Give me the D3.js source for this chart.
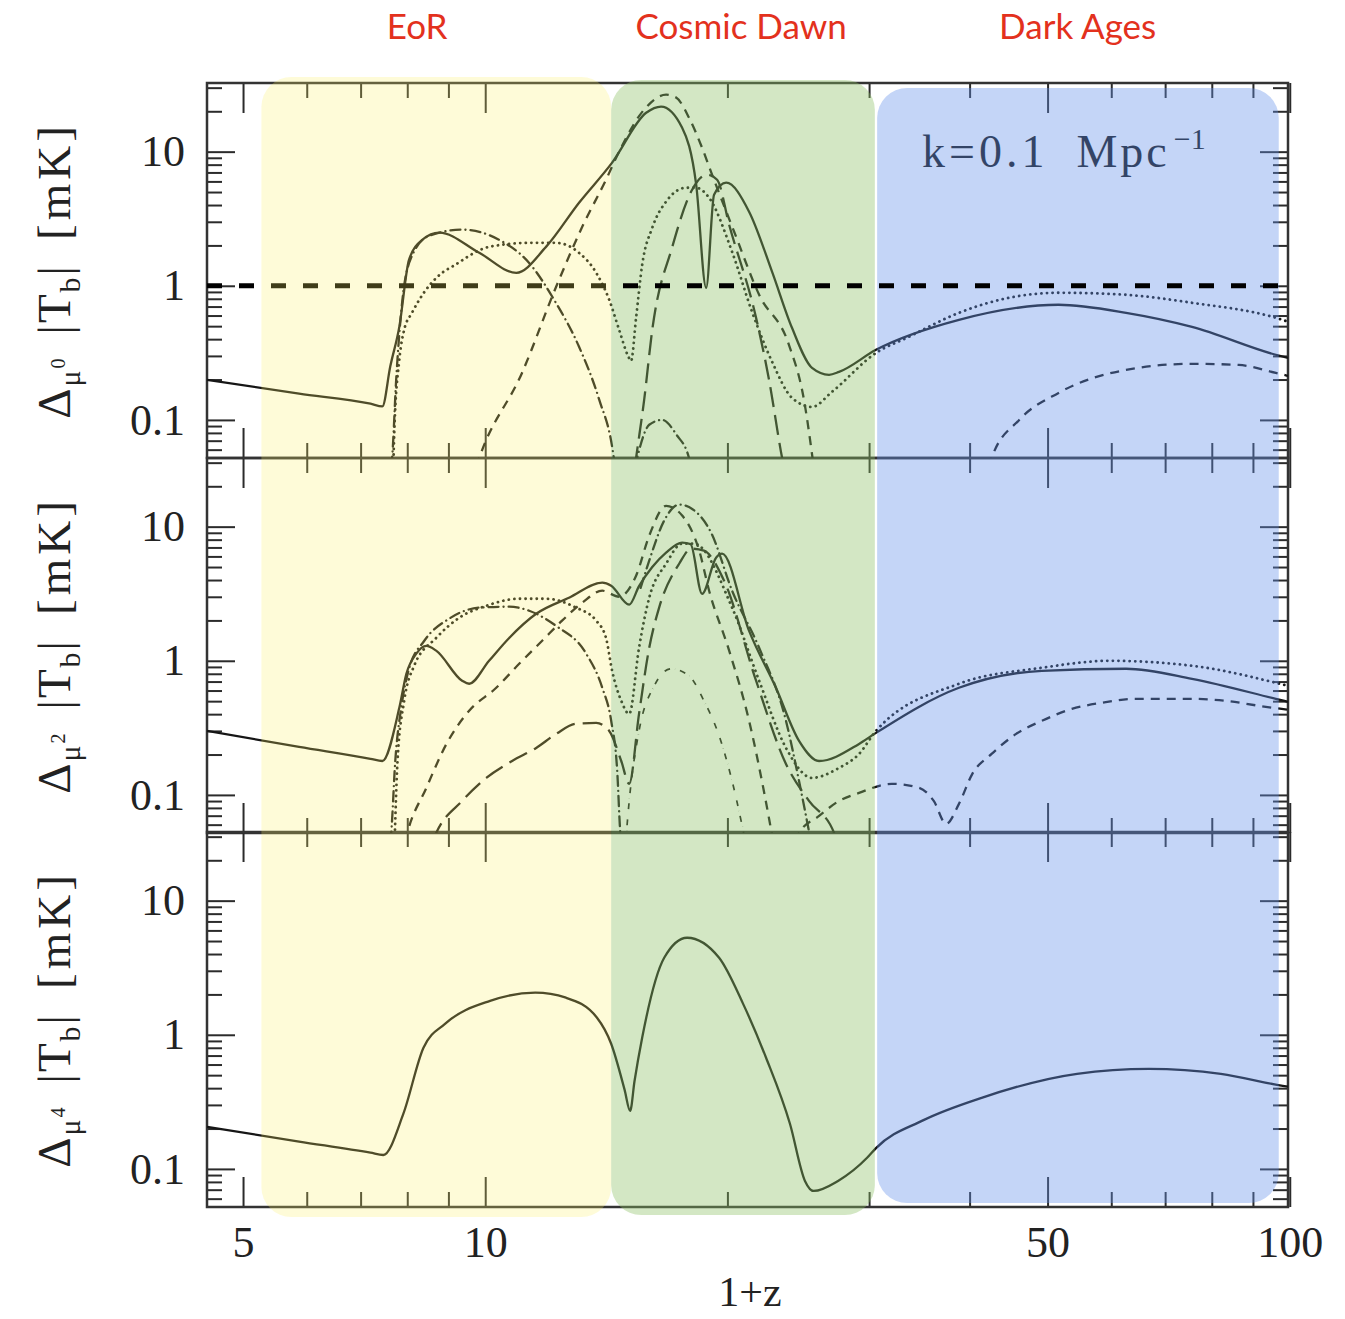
<!DOCTYPE html>
<html>
<head>
<meta charset="utf-8">
<script src="https://cdn.jsdelivr.net/npm/d3@7"></script>
<style>
  body { margin: 0; background: #fff; }
</style>
</head>
<body>
<svg id="chart" width="1345" height="1319"></svg>
<script>
// axis values
const xTicks = [5, 10, 50, 100];
const xMinor = [6, 7, 8, 9, 20, 30, 40, 60, 70, 80, 90];
const yTicks = [0.1, 1, 10];
const yMinor = [0.06, 0.07, 0.08, 0.09, 0.2, 0.3, 0.4, 0.5, 0.6, 0.7, 0.8, 0.9,
                2, 3, 4, 5, 6, 7, 8, 9, 20, 30];
const panelPowers = ["0", "2", "4"];
const thresholdLevel = 1;

// epochs (in 1+z)
const regionNames = ["EoR", "Cosmic Dawn", "Dark Ages"];
const regionStart = [5.27, 14.34, 30.7];
const regionEnd = [14.34, 30.5, 96.9];
const regionLabelAt = [8.23, 20.8, 54.5];

// mu^0 panel, [1+z, mK], null = gap
const mu0Total = [[4.51,0.199],[5.87,0.157],[7.2,0.132],[7.45,0.126],[7.62,0.25],[7.82,0.494],[8.04,1.56],[8.35,2.2],[8.77,2.49],[9.83,1.76],[10.93,1.25],[11.9,1.95],[13.08,4.16],[14.38,8.28],[15.85,19.5],[16.54,21.7],[17.57,15.1],[18.29,5.67],[18.82,0.966],[19.25,4.78],[19.93,5.87],[21.28,3.57],[22.73,1.27],[24.06,0.486],[25.48,0.244],[26.75,0.217],[27.53,0.228],[30.6,0.333],[38.8,0.557],[51.6,0.722],[62.6,0.629],[75.6,0.494],[96.1,0.306],[99.5,0.29]];
const mu0Dotted = [[7.69,0.05],[7.71,0.084],[7.82,0.28],[7.93,0.47],[8.11,0.629],[8.28,0.786],[8.84,1.25],[9.1,1.39],[10.11,1.95],[11.34,2.09],[12.25,2.09],[13.08,1.76],[13.74,1.25],[14.26,0.786],[14.67,0.47],[15.05,0.3],[15.18,0.275],[15.4,0.577],[15.67,1.43],[16.13,2.71],[16.78,4.24],[17.77,5.38],[18.29,5.38],[18.98,4.53],[20.27,1.79],[21.46,0.64],[22.73,0.271],[24.06,0.146],[25.48,0.125],[26.98,0.162],[30.6,0.316],[33.6,0.416],[38.8,0.629],[44.8,0.814],[51.6,0.887],[62.6,0.857],[75.6,0.747],[96.1,0.577],[99.5,0.54]];
const mu0Dashed = [[9.75,0.045],[9.83,0.052],[11.11,0.224],[12.25,0.983],[13.2,2.75],[14.13,6.18],[14.67,10],[15.76,20.6],[16.78,26.6],[17.27,25.3],[17.92,17.9],[18.6,10.7],[19.14,6.74],[20.39,2.53],[21.9,0.857],[23.85,0.363],[24.9,0.141],[25.6,0.045],
  null,[42.3,0.045],[42.6,0.052],[46.1,0.1],[51.6,0.159],[62.6,0.236],[75.6,0.262],[86.4,0.257],[96.1,0.224],[99.5,0.213]];
const mu0LongDash = [[15.35,0.045],[15.4,0.052],[15.76,0.141],[16.13,0.47],[17.08,1.95],[18.08,5.2],[18.87,6.74],[19.42,6.18],[20.1,2.85],[21.71,0.577],[22.53,0.199],[23.39,0.052],[23.5,0.045]];
const mu0DotDash = [[7.64,0.045],[7.66,0.052],[7.75,0.199],[7.89,0.786],[8.09,1.62],[8.52,2.36],[9.36,2.62],[10.41,2.2],[11.34,1.48],[12.18,0.786],[13.08,0.351],[13.86,0.141],[14.38,0.063],[14.5,0.045],
  null,[15.35,0.045],[15.99,0.092],[16.59,0.1],[17.3,0.077],[17.92,0.052],[18.0,0.045]];

// mu^2 panel
const mu2Total = [[4.51,0.3],[5.87,0.228],[7.2,0.186],[7.45,0.179],[7.82,0.446],[7.98,0.8],[8.21,1.13],[8.45,1.29],[8.69,1.19],[9.36,0.71],[9.55,0.674],[10.11,1.0],[10.71,1.48],[11.57,2.24],[12.71,2.95],[13.98,3.82],[14.34,3.63],[15.1,2.62],[15.53,3.6],[16.13,5.0],[16.78,6.4],[17.57,7.6],[18.0,7.4],[18.6,3.16],[19.36,5.87],[19.7,6.29],[21.28,1.67],[22.98,0.629],[24.55,0.253],[26.0,0.179],[29.15,0.24],[30.6,0.29],[38.8,0.629],[49.2,0.842],[62.6,0.872],[75.6,0.734],[96.1,0.52],[99.5,0.494]];
const mu2Dotted = [[7.72,0.05],[7.78,0.179],[7.93,0.503],[8.16,0.918],[8.69,1.48],[9.28,2.09],[10.03,2.57],[11.02,2.9],[11.9,2.9],[12.97,2.49],[13.74,1.99],[14.13,1.48],[14.38,0.842],[14.76,0.503],[15.1,0.402],[15.53,1.25],[15.99,2.95],[16.78,5.29],[17.57,7.47],[18.18,7.47],[20.27,2.49],[21.9,0.71],[23.65,0.224],[25.48,0.134],[27.53,0.159],[29.15,0.202],[30.6,0.3],[38.8,0.674],[49.2,0.887],[59.6,1.0],[75.6,0.918],[96.1,0.685],[99.5,0.65]];
const mu2Dashed = [[7.95,0.045],[8.0,0.052],[8.45,0.113],[8.95,0.24],[9.55,0.424],[10.32,0.629],[11.02,0.95],[11.77,1.41],[12.46,1.99],[13.2,2.71],[13.98,3.33],[14.67,3.0],[15.4,4.31],[15.99,8.57],[16.78,14.3],[17.57,12.1],[18.45,6.62],[18.98,3.33],[20.1,1.19],[21.28,0.357],[22.2,0.107],[22.8,0.045],
  null,[24.4,0.045],[24.55,0.052],[26.0,0.0697],[27.53,0.0902],[29.15,0.1035],[32.0,0.121],[34.6,0.113],[36.1,0.0902],[37.4,0.0608],[38.8,0.0857],[40.3,0.143],[42.6,0.202],[45.7,0.285],[49.2,0.357],[53.6,0.438],[58.4,0.486],[64.4,0.52],[75.6,0.52],[83.3,0.503],[91.5,0.462],[99.5,0.431]];
const mu2LongDash = [[8.6,0.045],[8.69,0.052],[9.36,0.0902],[10.03,0.134],[10.8,0.179],[11.57,0.224],[12.25,0.285],[12.97,0.339],[13.74,0.344],[14.26,0.3],[14.76,0.179],[15.1,0.121],[15.53,0.402],[15.99,1.25],[16.45,2.49],[17.42,5.29],[18.03,6.85],[18.7,6.62],[19.81,3.95],[21.71,0.71],[23.65,0.17],[25.26,0.0902],[27.14,0.052],[27.3,0.045]];
const mu2DotDash = [[7.62,0.045],[7.64,0.052],[7.73,0.179],[7.87,0.462],[8.04,0.871],[8.4,1.41],[9.02,2.06],[9.83,2.49],[10.71,2.53],[11.34,2.36],[12.25,1.82],[13.35,1.13],[13.98,0.629],[14.34,0.357],[14.59,0.151],[14.72,0.052],[14.75,0.045]];
const mu2ThinDotDash = [[14.95,0.045],[15.1,0.0902],[15.53,0.3],[16.22,0.65],[17.02,0.871],[17.92,0.773],[18.7,0.503],[19.53,0.276],[20.27,0.127],[20.8,0.064],[21.05,0.045]];
const mu2DashDot = [[15.6,3.5],[15.99,5.58],[16.69,11.1],[17.42,14.6],[18.1,13.5],[19.09,9.0],[20.27,3.33],[21.9,1.25],[23.65,0.357],[24.55,0.127],[25.4,0.045]];

// mu^4 panel
const mu4Total = [[4.51,0.206],[5.87,0.16],[7.2,0.132],[7.47,0.127],[7.91,0.257],[8.38,0.8],[8.92,1.21],[10.14,1.79],[11.54,2.06],[12.6,1.89],[13.77,1.34],[14.34,0.857],[14.9,0.39],[15.14,0.271],[15.33,0.45],[15.67,0.95],[16.69,3.75],[17.82,5.29],[19.53,3.75],[20.92,1.7],[22.34,0.674],[23.92,0.217],[24.97,0.0814],[25.6,0.0685],[27.45,0.0814],[29.83,0.121],[30.6,0.143],[35.0,0.23],[41.4,0.339],[54.4,0.512],[66.8,0.557],[82.1,0.512],[98.0,0.416],[99.5,0.41]];

const panels = [
  [[mu0DotDash, "dotdash"], [mu0LongDash, "longdash"], [mu0Dashed, "dashed"], [mu0Dotted, "dotted"], [mu0Total, "solid"]],
  [[mu2DotDash, "dotdash"], [mu2ThinDotDash, "thin"], [mu2DashDot, "dotdash"], [mu2LongDash, "longdash"], [mu2Dashed, "dashed"], [mu2Dotted, "dotted"], [mu2Total, "solid"]],
  [[mu4Total, "solid"]]
];

const lineStyles = {
  solid:    { dash: null, w: 2.3 },
  dotted:   { dash: "0.1 5.5", w: 2.8 },
  dashed:   { dash: "9 7", w: 2.3 },
  longdash: { dash: "20 8", w: 2.3 },
  dotdash:  { dash: "10 5 0.1 5", w: 2.3 },
  thin:     { dash: "6 5 0.1 5", w: 1.7 }
};

const serif = "'Liberation Serif', 'Times New Roman', serif";
const left = 207, right = 1288, panelTop = [83, 458, 832], panelH = 375;

const svg = d3.select("#chart");
const x = d3.scaleLog().domain([4.51, 99.5]).range([left, right]);

function ticks(g, axis, transform) {
  g.append("g").attr("transform", transform).call(axis)
    .call(a => a.select(".domain").remove())
    .call(a => a.selectAll("line").attr("stroke", "#2b2b2b").attr("stroke-width", 2));
}

const axesLayer = svg.append("g");
const curveLayer = svg.append("g");
const yScales = [];

panels.forEach((series, i) => {
  const top = panelTop[i], bottom = top + panelH;
  const y = d3.scaleLog().domain([0.052, 32.5]).range([bottom, top]);
  yScales.push(y);
  const g = axesLayer.append("g");

  ticks(g, d3.axisTop(x).tickValues(xTicks).tickSize(30).tickFormat(""), `translate(0,${bottom})`);
  ticks(g, d3.axisTop(x).tickValues(xMinor).tickSize(15).tickFormat(""), `translate(0,${bottom})`);
  ticks(g, d3.axisBottom(x).tickValues(xTicks).tickSize(30).tickFormat(""), `translate(0,${top})`);
  ticks(g, d3.axisBottom(x).tickValues(xMinor).tickSize(15).tickFormat(""), `translate(0,${top})`);
  ticks(g, d3.axisRight(y).tickValues(yTicks).tickSize(28).tickFormat(""), `translate(${left},0)`);
  ticks(g, d3.axisRight(y).tickValues(yMinor).tickSize(15).tickFormat(""), `translate(${left},0)`);
  ticks(g, d3.axisLeft(y).tickValues(yTicks).tickSize(28).tickFormat(""), `translate(${right},0)`);
  ticks(g, d3.axisLeft(y).tickValues(yMinor).tickSize(15).tickFormat(""), `translate(${right},0)`);

  // y labels
  g.append("g").attr("transform", `translate(${left},0)`)
    .call(d3.axisLeft(y).tickValues(yTicks).tickSize(0).tickPadding(22).tickFormat(d3.format("~g")))
    .call(a => a.select(".domain").remove())
    .call(a => a.selectAll("text").attr("font-family", serif).attr("font-size", 44).attr("fill", "#222"));

  g.append("rect").attr("x", left).attr("y", top).attr("width", right - left).attr("height", panelH)
    .attr("fill", "none").attr("stroke", "#333").attr("stroke-width", 2.5);

  // rotated axis title
  const t = g.append("text")
    .attr("transform", `translate(70,${(top + bottom) / 2}) rotate(-90)`)
    .attr("text-anchor", "middle").attr("font-family", serif).attr("font-size", 47).attr("fill", "#222")
    .attr("letter-spacing", 2);
  t.append("tspan").text("Δ");
  t.append("tspan").attr("font-size", 30).attr("dy", 10).text("μ");
  t.append("tspan").attr("font-size", 20).attr("dy", -15).text(panelPowers[i]);
  t.append("tspan").attr("dy", 5).attr("dx", 22).text("|T");
  t.append("tspan").attr("font-size", 30).attr("dy", 10).text("b");
  t.append("tspan").attr("dy", -10).text("|");
  t.append("tspan").attr("dx", 24).attr("letter-spacing", 4).text("[mK]");

  // curves
  const clipId = `clip${i}`;
  svg.append("clipPath").attr("id", clipId).append("rect")
    .attr("x", left).attr("y", top).attr("width", right - left).attr("height", panelH);
  const line = d3.line().defined(d => d !== null)
    .x(d => x(d[0])).y(d => y(d[1])).curve(d3.curveMonotoneX);
  curveLayer.append("g").attr("clip-path", `url(#${clipId})`)
    .selectAll("path").data(series).join("path")
    .attr("d", d => line(d[0]))
    .attr("fill", "none").attr("stroke", "#161616")
    .attr("stroke-width", d => lineStyles[d[1]].w)
    .attr("stroke-dasharray", d => lineStyles[d[1]].dash)
    .attr("stroke-linecap", d => d[1] === "dotted" || d[1].includes("dot") ? "round" : "butt");
});

// x labels
axesLayer.append("g").attr("transform", `translate(0,${panelTop[2] + panelH})`)
  .call(d3.axisBottom(x).tickValues(xTicks).tickSize(0).tickPadding(19).tickFormat(d3.format("d")))
  .call(a => a.select(".domain").remove())
  .call(a => a.selectAll("text").attr("font-family", serif).attr("font-size", 44).attr("fill", "#222"));

axesLayer.append("text").attr("x", 750).attr("y", 1306).attr("text-anchor", "middle")
  .attr("font-family", serif).attr("font-size", 42).attr("fill", "#222").text("1+z");

// k label
const k = svg.append("text").attr("x", 922).attr("y", 167)
  .attr("font-family", serif).attr("font-size", 46).attr("fill", "#161616");
k.append("tspan").attr("letter-spacing", 4).text("k=0.1");
k.append("tspan").attr("dx", 28).attr("letter-spacing", 3).text("Mpc");
k.append("tspan").attr("font-size", 30).attr("dy", -18).attr("dx", 4).text("−1");

// shaded epochs
const overlayFill = ["rgba(252,238,100,0.25)", "rgba(140,192,100,0.38)", "rgba(100,145,235,0.38)"];
const overlayTop = [77, 80, 88], overlayBottom = [1217, 1215, 1203];
function overlay(i) {
  svg.append("rect")
    .attr("x", x(regionStart[i])).attr("width", x(regionEnd[i]) - x(regionStart[i]))
    .attr("y", overlayTop[i]).attr("height", overlayBottom[i] - overlayTop[i])
    .attr("rx", 30).attr("fill", overlayFill[i]);
}
overlay(1);
overlay(2);

// detection threshold
svg.append("line")
  .attr("x1", left).attr("x2", right)
  .attr("y1", yScales[0](thresholdLevel)).attr("y2", yScales[0](thresholdLevel))
  .attr("stroke", "#000").attr("stroke-width", 5).attr("stroke-dasharray", "15 17");

overlay(0);

svg.selectAll(".region").data(regionNames).join("text")
  .attr("x", (d, i) => x(regionLabelAt[i])).attr("y", 39)
  .attr("text-anchor", "middle").attr("font-family", "Lato, 'Open Sans', sans-serif")
  .attr("font-size", 35).attr("fill", "#e3311d").text(d => d);
</script>
</body>
</html>
